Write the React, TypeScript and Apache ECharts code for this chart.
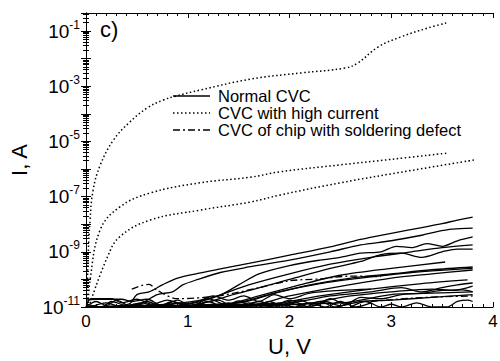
import React, { useEffect, useRef } from "react";
import * as echarts from "echarts";

// Each curve: [U (V), log10(I / A)]
const normal1 = [[0,-11],[0.42,-10.9],[0.5,-10.55],[0.62,-10.45],[0.75,-10.2],[0.9,-9.95],[1.1,-9.78],[1.32,-9.62],[1.6,-9.42],[2.0,-9.12],[2.4,-8.82],[2.7,-8.55],[3.0,-8.33],[3.3,-8.12],[3.5,-7.98],[3.65,-7.85],[3.8,-7.74]];
const normal2 = [[0.3,-11],[0.55,-10.85],[0.7,-10.55],[0.85,-10.45],[0.95,-10.2],[1.1,-10.0],[1.32,-9.75],[1.6,-9.55],[2.0,-9.3],[2.4,-9.0],[2.7,-8.75],[3.0,-8.6],[3.3,-8.4],[3.45,-8.27],[3.6,-8.18],[3.8,-8.14]];
const normal3 = [[0.5,-11],[1.0,-10.9],[1.3,-10.6],[1.5,-10.2],[1.7,-9.8],[2.0,-9.5],[2.3,-9.3],[2.5,-9.2],[2.7,-9.05],[2.9,-9.0],[3.05,-8.8],[3.2,-8.85],[3.35,-8.7],[3.5,-8.8],[3.65,-8.6],[3.8,-8.46]];
const normal4 = [[0,-11],[0.8,-10.9],[1.2,-10.7],[1.6,-10.2],[2.0,-9.8],[2.4,-9.45],[2.8,-9.2],[3.2,-9.0],[3.5,-8.85],[3.8,-8.75]];
const normal5 = [[0,-11],[1.0,-10.95],[1.5,-10.5],[2.0,-10.0],[2.4,-9.6],[2.7,-9.35],[2.9,-9.1],[3.1,-9.05],[3.3,-9.2],[3.5,-9.0],[3.65,-8.9],[3.8,-8.9]];
const normal6 = [[0,-11],[1.3,-10.95],[1.7,-10.6],[2.1,-10.2],[2.5,-9.85],[3.0,-9.6],[3.53,-9.37]];
const normal7 = [[0,-11],[1.4,-10.9],[1.8,-10.55],[2.2,-10.2],[2.6,-9.95],[3.0,-9.8],[3.4,-9.65],[3.8,-9.55]];
const normal8 = [[0,-11],[1.5,-10.85],[1.9,-10.45],[2.3,-10.15],[2.7,-9.95],[3.2,-9.75],[3.8,-9.6]];
const normal9 = [[0,-11],[1.6,-10.95],[2.0,-10.6],[2.5,-10.25],[3.0,-9.95],[3.4,-9.8],[3.8,-9.66]];
const normal10 = [[0,-11],[1.8,-10.9],[2.3,-10.6],[2.8,-10.35],[3.3,-10.15],[3.75,-10.02]];
const normal11 = [[0,-11],[2.0,-10.85],[2.4,-10.6],[2.8,-10.45],[3.1,-10.3],[3.3,-10.45],[3.5,-10.3],[3.65,-10.2],[3.8,-10.13]];
const normal12 = [[0,-11],[2.1,-10.9],[2.6,-10.6],[3.0,-10.45],[3.4,-10.35],[3.6,-10.4],[3.8,-10.24]];
const normal13 = [[0,-11],[2.5,-10.85],[3.0,-10.55],[3.3,-10.5],[3.5,-10.4],[3.7,-10.38],[3.8,-10.45]];
const floor1 = [[0,-10.75],[0.1,-10.72],[0.35,-10.72],[0.45,-10.8],[0.6,-10.72],[0.75,-10.95],[0.9,-10.75],[1.05,-11],[1.2,-10.8],[1.35,-11],[1.5,-10.78],[1.65,-11],[1.8,-10.8],[1.95,-11],[2.1,-10.75],[2.25,-10.95],[2.4,-10.7],[2.55,-10.9],[2.7,-10.65],[2.9,-10.7],[3.1,-10.55],[3.4,-10.5],[3.8,-10.45]];
const floor2 = [[0,-11],[0.1,-10.8],[0.2,-10.95],[0.3,-10.75],[0.45,-11],[0.6,-10.8],[0.75,-11],[0.9,-10.85],[1.05,-10.95],[1.2,-10.7],[1.35,-10.9],[1.5,-11],[1.7,-10.8],[1.85,-10.95],[2.0,-10.75],[2.2,-11],[2.35,-10.8],[2.5,-10.95],[2.7,-10.8],[3.0,-10.75],[3.4,-10.65],[3.8,-10.55]];
const floor3 = [[0,-10.9],[0.15,-11],[0.25,-10.8],[0.4,-10.95],[0.55,-10.85],[0.7,-11],[0.85,-10.8],[1.0,-11],[1.15,-10.85],[1.3,-10.75],[1.45,-11],[1.6,-10.85],[1.75,-11],[1.9,-10.9],[2.05,-11],[2.2,-10.85],[2.35,-11],[2.5,-10.8],[2.65,-11],[2.8,-10.85]];
const floor4 = [[0,-11],[0.05,-10.7],[0.25,-10.7],[0.35,-10.85],[0.5,-10.72],[0.65,-10.9],[0.8,-10.75],[0.95,-10.9],[1.1,-10.8],[1.25,-10.6],[1.4,-10.75],[1.55,-10.6],[1.7,-10.8],[1.85,-10.55],[2.0,-10.7],[2.2,-10.5],[2.5,-10.4],[2.8,-10.35]];
const floor5 = [[0.05,-11],[0.2,-10.85],[0.35,-11],[0.5,-10.9],[0.65,-11],[0.8,-10.9],[0.95,-11],[1.1,-10.9],[1.25,-11],[1.4,-10.85],[1.55,-11],[1.7,-10.9],[1.85,-11],[2.0,-10.85],[2.15,-11],[2.3,-10.8],[2.45,-11],[2.6,-10.85]];
const floor6 = [[2.6,-11],[2.75,-10.8],[2.9,-11],[3.0,-10.9],[3.1,-11],[3.25,-10.85],[3.4,-11],[3.55,-11],[3.65,-10.8],[3.75,-10.75],[3.8,-10.8]];
const highCurrent1 = [[0.01,-11],[0.02,-9.3],[0.04,-7.85],[0.07,-6.76],[0.14,-5.86],[0.27,-4.95],[0.43,-4.3],[0.6,-3.79],[0.76,-3.5],[0.88,-3.36],[1.12,-3.14],[1.62,-2.74],[2.11,-2.52],[2.55,-2.34],[2.67,-2.16],[2.87,-1.58],[3.09,-1.22],[3.36,-0.89],[3.54,-0.71]];
const highCurrent2 = [[0.02,-11],[0.04,-10.02],[0.14,-8.2],[0.33,-7.38],[0.63,-6.87],[1.12,-6.5],[1.61,-6.3],[1.91,-6.1],[2.5,-5.85],[3.0,-5.65],[3.56,-5.42]];
const highCurrent3 = [[0.04,-10.86],[0.21,-9.19],[0.33,-8.46],[0.63,-7.85],[1.12,-7.49],[1.61,-7.2],[1.91,-6.94],[2.5,-6.5],[3.2,-6.05],[3.82,-5.67]];
const defect1 = [[0.45,-10.35],[0.55,-10.22],[0.62,-10.18],[0.7,-10.4],[0.9,-10.7],[1.3,-10.6],[1.7,-10.3],[2.0,-10.05],[2.3,-9.98],[2.6,-9.88],[2.9,-9.9]];
const defect2 = [[2.8,-10.8],[3.2,-10.68],[3.5,-10.63],[3.8,-10.6]];

const normalCurves = [normal1, normal2, normal3, normal4, normal5, normal6, normal7, normal8, normal9, normal10, normal11, normal12, normal13, floor1, floor2, floor3, floor4, floor5, floor6];
const highCurves = [highCurrent1, highCurrent2, highCurrent3];
const defectCurves = [defect1, defect2];

const legendNames = ["Normal CVC", "CVC with high current", "CVC of chip with soldering defect"];

const FONT = "Liberation Sans, Arial, sans-serif";
const DOTTED = [1.5, 2.5];
const DASHDOT = [7, 3, 2, 3];

function toData(c: number[][]) {
  return c.map(([u, e]) => [u, Math.pow(10, e)]);
}

export default function App() {
  const ref = useRef<HTMLDivElement>(null);
  useEffect(() => {
    if (!ref.current) return;
    const chart = echarts.init(ref.current, null, { renderer: "svg" });
    const series: any[] = [];
    normalCurves.forEach((c) =>
      series.push({
        type: "line", name: legendNames[0], data: toData(c), showSymbol: false, symbol: "none",
        smooth: 0.3, lineStyle: { color: "#000", width: 1.3, type: "solid" },
      })
    );
    highCurves.forEach((c) =>
      series.push({
        type: "line", name: legendNames[1], data: toData(c), showSymbol: false, symbol: "none",
        smooth: 0.4, lineStyle: { color: "#000", width: 1.5, type: DOTTED },
      })
    );
    defectCurves.forEach((c) =>
      series.push({
        type: "line", name: legendNames[2], data: toData(c), showSymbol: false, symbol: "none",
        smooth: 0.3, lineStyle: { color: "#000", width: 1.3, type: DASHDOT },
      })
    );
    const yFmt = (v: number) => {
      const l = Math.log10(v);
      const e = Math.round(l);
      if (Math.abs(l - e) > 0.01 || e % 2 === 0) return "";
      return `{b|10}{s|${e}}`;
    };
    const axisLine = { show: true, lineStyle: { color: "#000", width: 1 } };
    const legendRows = [96, 113, 130];
    const legendDash: any[] = [null, DOTTED, DASHDOT];
    const legendGraphic: any[] = [];
    legendNames.forEach((n, i) => {
      legendGraphic.push({
        type: "line", shape: { x1: 173, y1: legendRows[i], x2: 210, y2: legendRows[i] },
        style: { stroke: "#000", lineWidth: i === 1 ? 1.5 : 1.3, lineDash: legendDash[i] },
      });
      legendGraphic.push({
        type: "text", x: 218, y: legendRows[i],
        style: { text: n, font: `16.5px ${FONT}`, fill: "#000", verticalAlign: "middle", lineHeight: 16 },
      });
    });
    chart.setOption({
      animation: false,
      backgroundColor: "#fff",
      textStyle: { fontFamily: FONT, color: "#000" },
      grid: { left: 86, right: 7, top: 13, bottom: 54, containLabel: false, outerBoundsMode: "none" },
      xAxis: [
        {
          type: "value", min: 0, max: 4, interval: 1, name: "U, V", nameLocation: "middle", nameGap: 28,
          nameTextStyle: { fontFamily: FONT, fontSize: 22, color: "#000" },
          axisLine, axisTick: { inside: true, length: 5, lineStyle: { color: "#000" } },
          minorTick: { show: true, splitNumber: 10, length: 3, lineStyle: { color: "#000" } },
          axisLabel: { fontFamily: FONT, fontSize: 17, color: "#000", margin: 6 },
          splitLine: { show: false },
        },
        {
          type: "value", min: 0, max: 4, interval: 1, position: "top",
          axisLine, axisTick: { inside: true, length: 5, lineStyle: { color: "#000" } },
          minorTick: { show: true, splitNumber: 10, length: 3, lineStyle: { color: "#000" } },
          axisLabel: { show: false }, splitLine: { show: false },
        },
      ],
      yAxis: [
        {
          type: "log", min: 1e-11, max: 0.45, logBase: 10, interval: 1, name: "I, A", nameLocation: "middle", nameGap: 56,
          nameTextStyle: { fontFamily: FONT, fontSize: 22, color: "#000" },
          axisLine, axisTick: { inside: true, length: 5, lineStyle: { color: "#000" } },
          minorTick: { show: true, splitNumber: 9, length: 3, lineStyle: { color: "#000" } },
          axisLabel: {
            formatter: yFmt, margin: 6, showMaxLabel: false,
            rich: {
              b: { fontFamily: FONT, fontSize: 19, color: "#000", verticalAlign: "bottom", lineHeight: 19 },
              s: { fontFamily: FONT, fontSize: 12, color: "#000", verticalAlign: "bottom", lineHeight: 12, padding: [0, 0, 10, 0] },
            },
          },
          splitLine: { show: false },
        },
        {
          type: "log", min: 1e-11, max: 0.45, logBase: 10, interval: 1, position: "right",
          axisLine, axisTick: { inside: true, length: 5, lineStyle: { color: "#000" } },
          minorTick: { show: true, splitNumber: 9, length: 3, lineStyle: { color: "#000" } },
          axisLabel: { show: false }, splitLine: { show: false },
        },
      ],
      graphic: [
        { type: "text", left: 100, top: 18, style: { text: "c)", font: `22px ${FONT}`, fill: "#000" } },
        ...legendGraphic,
      ],
      series,
    });
    return () => chart.dispose();
  }, []);
  return <div ref={ref} style={{ position: "fixed", left: 0, top: 0, width: 500, height: 361 }} />;
}
